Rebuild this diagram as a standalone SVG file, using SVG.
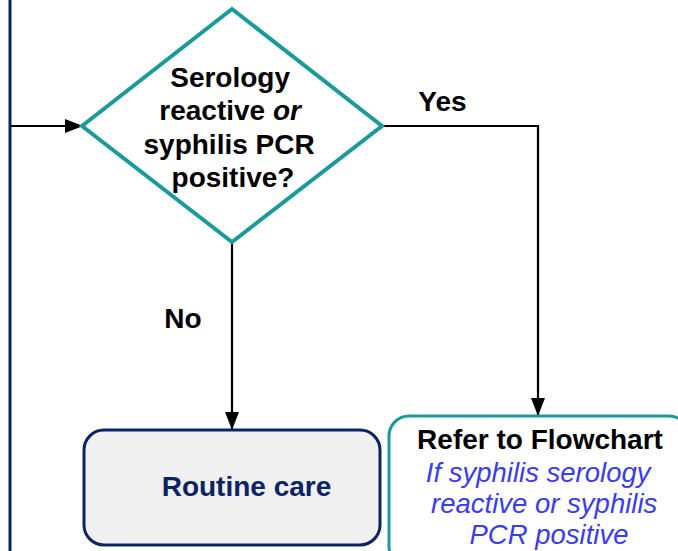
<svg xmlns="http://www.w3.org/2000/svg" width="678" height="551" viewBox="0 0 678 551">
<defs>
<marker id="ah" markerWidth="18" markerHeight="14" refX="17" refY="7" orient="auto" markerUnits="userSpaceOnUse" viewBox="0 0 18 14">
<path d="M0,0 L18,7 L0,14 Z" fill="#000"/>
</marker>
<style>
.conn{stroke:#000;stroke-width:2.2;fill:none}
.lbl{font-family:"Liberation Sans",Arial,sans-serif;font-weight:bold;font-size:28px;fill:#000}
.blue{font-family:"Liberation Sans",Arial,sans-serif;font-style:italic;font-size:27.5px;fill:#3B3BF0}
</style>
</defs>
<rect width="678" height="551" fill="#fff"/>
<line x1="10" y1="0" x2="10" y2="551" stroke="#0A2463" stroke-width="3"/>
<g id="connectors">
<line class="conn" x1="10" y1="126" x2="82" y2="126" marker-end="url(#ah)"/>
<polyline class="conn" points="382,126 538,126 538,415" marker-end="url(#ah)"/>
<line class="conn" x1="232" y1="242" x2="232" y2="429" marker-end="url(#ah)"/>
<text class="lbl" x="442.5" y="111" text-anchor="middle">Yes</text>
<text class="lbl" x="183" y="328" text-anchor="middle">No</text>
</g>
<g id="decision">
<polygon points="232,9 382,126 232,242 82,126" fill="#fff" stroke="#1A9A9A" stroke-width="4"/>
<text class="lbl" text-anchor="middle">
<tspan x="234" y="86.5">Serology</tspan>
<tspan x="234" y="120">reactive <tspan font-style="italic">or</tspan></tspan>
<tspan x="233" y="153.5">syphilis PCR</tspan>
<tspan x="233" y="187">positive?</tspan>
</text>
</g>
<g id="routine">
<rect x="84" y="430" width="296" height="115" rx="20" fill="#F0F0F0" stroke="#0A2463" stroke-width="3"/>
<text class="lbl" x="246.5" y="496" text-anchor="middle" style="fill:#0A2463">Routine care</text>
</g>
<g id="refer">
<rect x="389" y="416" width="300" height="150" rx="20" fill="#fff" stroke="#1A9A9A" stroke-width="3"/>
<text class="lbl" x="540" y="449" text-anchor="middle">Refer to Flowchart</text>
<text class="blue" text-anchor="middle">
<tspan x="542" y="482">If syphilis serology</tspan>
<tspan x="548" y="513">reactive or syphilis</tspan>
<tspan x="549" y="544">PCR positive</tspan>
</text>
</g>
</svg>
